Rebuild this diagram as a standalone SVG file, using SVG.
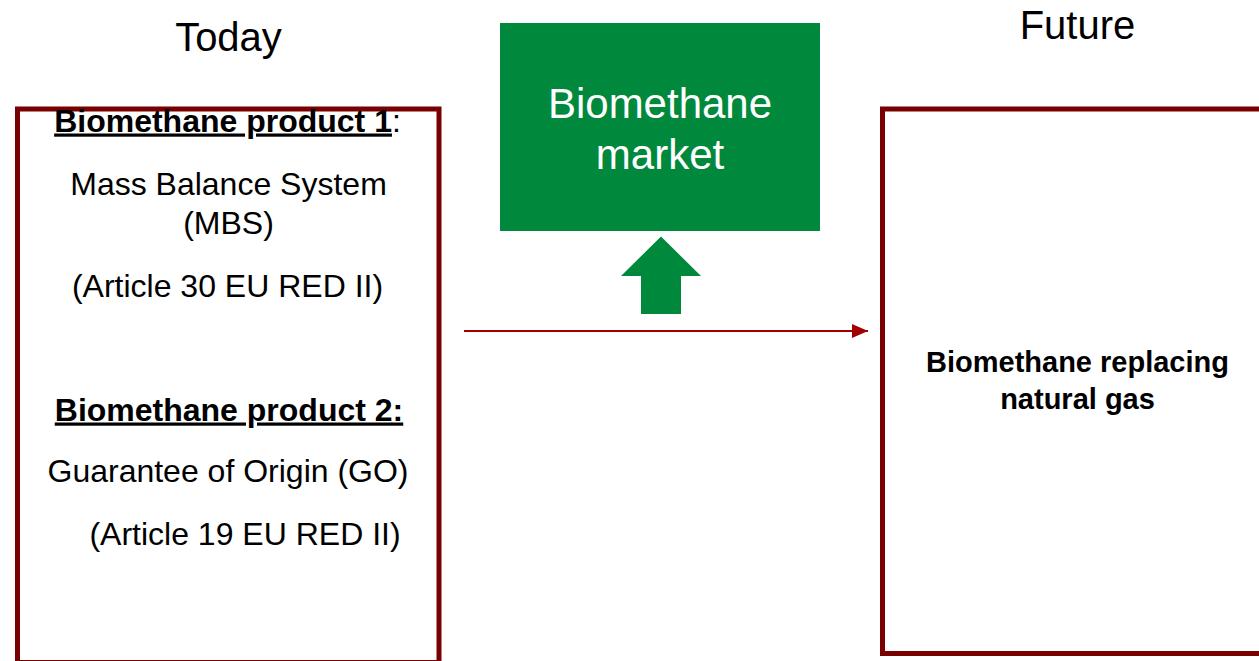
<svg xmlns="http://www.w3.org/2000/svg" width="1259" height="661" viewBox="0 0 1259 661">
  <defs>
    <style>
      text { font-family: "Liberation Sans", Arial, sans-serif; fill: #000; }
      .title { font-size: 40px; text-anchor: middle; }
      .body { font-size: 32px; text-anchor: middle; }
      .head { font-size: 32px; font-weight: bold; text-decoration: underline; }
      .frame { fill: #fff; stroke: #780000; stroke-width: 5; }
      .mkt { font-size: 42px; fill: #fff; text-anchor: middle; }
      .future { font-size: 29px; font-weight: bold; text-anchor: middle; }
    </style>
    <marker id="arrowRed" viewBox="0 0 16 14" refX="16" refY="7" markerWidth="16" markerHeight="14" markerUnits="userSpaceOnUse" orient="auto">
      <path d="M0,0 L16,7 L0,14 Z" fill="#A00000"/>
    </marker>
  </defs>
  <rect width="1259" height="661" fill="#fff"/>

  <text class="title" x="228.5" y="51">Today</text>
  <text class="title" x="1077.5" y="39">Future</text>

  <g id="today-box">
    <rect class="frame" x="17.5" y="109" width="421.5" height="553.5"/>
    <text x="227.5" y="131.5" text-anchor="middle" font-size="32"><tspan font-weight="bold" text-decoration="underline">Biomethane product 1</tspan>:</text>
    <text class="body" x="228.5" y="194.5">Mass Balance System</text>
    <text class="body" x="228.5" y="233.5">(MBS)</text>
    <text class="body" x="227.5" y="297">(Article 30 EU RED II)</text>
    <text class="head" x="229" y="420.5" text-anchor="middle">Biomethane product 2:</text>
    <text class="body" x="228" y="482">Guarantee of Origin (GO)</text>
    <text class="body" x="245" y="545">(Article 19 EU RED II)</text>
  </g>

  <g id="market">
    <rect x="500" y="23" width="320" height="208" fill="#00893C"/>
    <text class="mkt" x="660" y="118">Biomethane</text>
    <text class="mkt" x="660" y="169">market</text>
  </g>

  <g id="future-box">
    <rect class="frame" x="882.5" y="109" width="400" height="544.5"/>
    <text class="future" x="1077.5" y="372">Biomethane replacing</text>
    <text class="future" x="1077.5" y="409">natural gas</text>
  </g>

  <g id="connectors">
    <path d="M661,236.5 L701,276 L681,276 L681,314 L641,314 L641,276 L621,276 Z" fill="#00893C"/>
    <line x1="464" y1="331" x2="868" y2="331" stroke="#A00000" stroke-width="2" marker-end="url(#arrowRed)"/>
  </g>
</svg>
